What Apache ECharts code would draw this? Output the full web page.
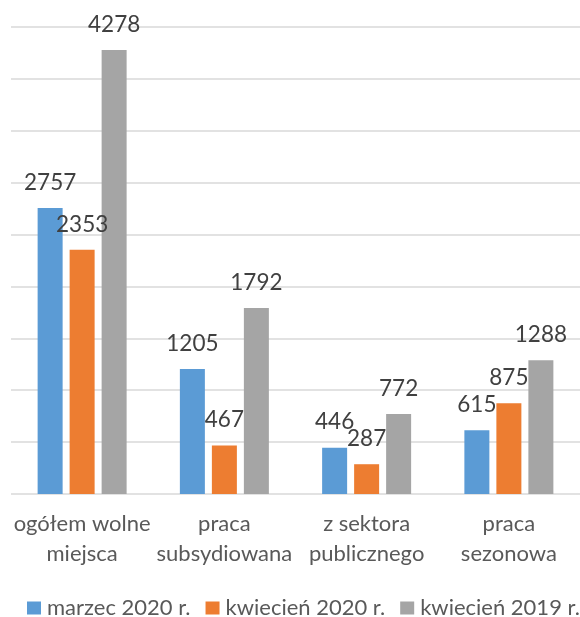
<!DOCTYPE html>
<html>

<head>
    <meta charset="utf-8">
    <title></title>
    <script src="https://cdn.jsdelivr.net/npm/echarts@6/dist/echarts.min.js"></script>
    <style>
        html,
        body {
            margin: 0;
            padding: 0;
            background: #fff;
        }

        #main {
            width: 580px;
            height: 617px;
        }
    </style>
</head>

<body>
    <div id="main"></div>
    <script type="text/javascript">
        var categories = ['ogółem wolne\nmiejsca', 'praca\nsubsydiowana', 'z sektora\npublicznego', 'praca\nsezonowa'];
        var seriesNames = ['marzec 2020 r.', 'kwiecień 2020 r.', 'kwiecień 2019 r.'];
        var marzec2020 = [2757, 1205, 446, 615];
        var kwiecien2020 = [2353, 467, 287, 875];
        var kwiecien2019 = [4278, 1792, 772, 1288];
        var colors = ['#5B9BD5', '#ED7D31', '#A5A5A5'];

        var font = 'Lato';
        var myChart = echarts.init(document.getElementById('main'));

        function makeSeries(name, data, color) {
            return {
                name: name,
                type: 'bar',
                data: data,
                barWidth: 25,
                barGap: '28%',
                itemStyle: { color: color },
                label: {
                    show: true,
                    position: 'top',
                    distance: 14,
                    color: '#404040',
                    fontSize: 22.5,
                    fontFamily: font
                }
            };
        }

        var option = {
            animation: false,
            color: colors,
            legend: {
                data: seriesNames,
                top: 597,
                left: 27,
                width: 600,
                padding: 0,
                itemWidth: 14,
                itemHeight: 13,
                itemGap: 15,
                icon: 'rect',
                textStyle: { color: '#595959', fontSize: 22, fontFamily: font, padding: [0, 0, 0, 1] }
            },
            grid: { left: 11, right: -4, top: 27, height: 467 },
            xAxis: {
                type: 'category',
                data: categories,
                axisLine: { show: false },
                axisTick: { show: false },
                axisLabel: {
                    color: '#595959',
                    fontSize: 22,
                    fontFamily: font,
                    lineHeight: 30,
                    margin: 15,
                    interval: 0
                }
            },
            yAxis: {
                type: 'value',
                min: 0,
                max: 4500,
                interval: 500,
                axisLabel: { show: false },
                axisLine: { show: false },
                splitLine: { lineStyle: { color: '#D9D9D9', width: 1.5 } }
            },
            series: [
                makeSeries(seriesNames[0], marzec2020, colors[0]),
                makeSeries(seriesNames[1], kwiecien2020, colors[1]),
                makeSeries(seriesNames[2], kwiecien2019, colors[2])
            ]
        };
        myChart.setOption(option);
    </script>
</body>

</html>
